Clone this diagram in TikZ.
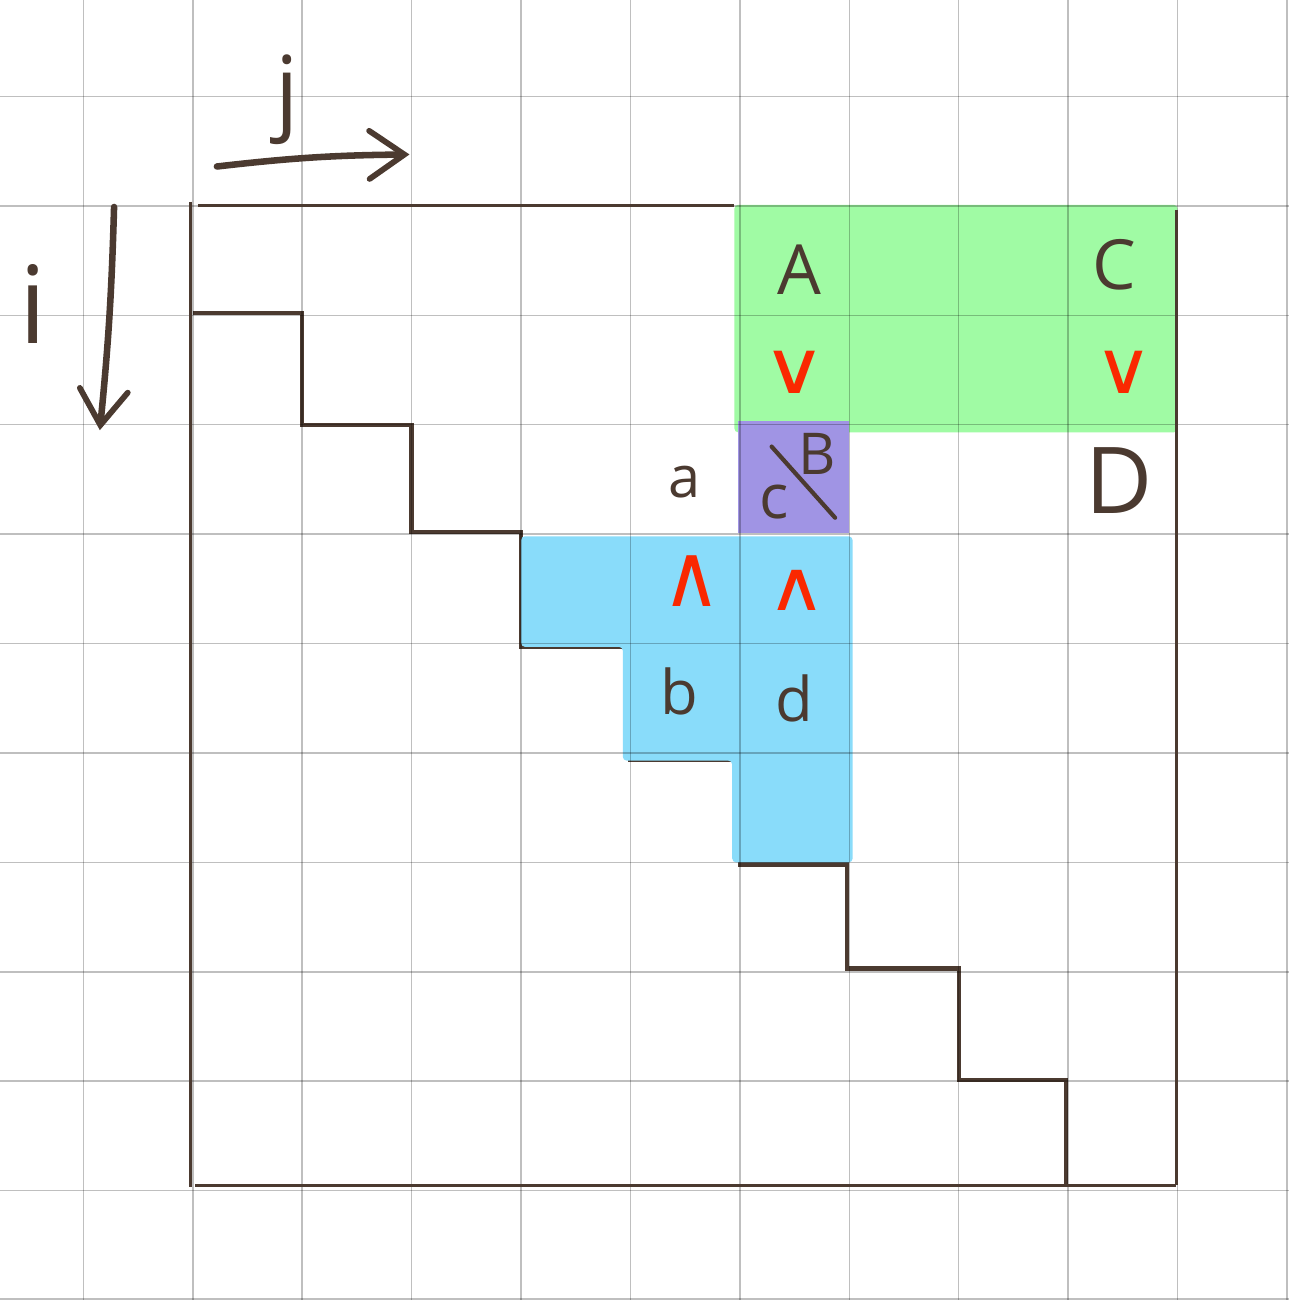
\documentclass[tikz,border=0pt]{standalone}
\usepackage{graphicx}
\usepackage{fontspec}
\setmainfont{Open Sans}
\newfontfamily\symfont{DejaVu Sans}
\usetikzlibrary{arrows.meta}
\definecolor{ink}{RGB}{75,58,48}
\definecolor{greenfill}{RGB}{160,251,164}
\definecolor{purplefill}{RGB}{160,148,228}
\definecolor{cyanfill}{RGB}{137,220,250}
\definecolor{redmark}{RGB}{250,40,0}
\begin{document}
\begin{tikzpicture}[
  gridline/.style={black, opacity=0.25, line width=0.4pt},
  outline/.style={ink, line width=0.8pt},
  stair/.style={ink, line width=1.15pt, line join=miter},
  axis/.style={ink, line width=1.7pt, line cap=round,
    -{Straight Barb[length=0.32cm,width=0.44cm,line cap=round,line width=1.5pt]}},
  lbl/.style={text=ink, inner sep=0pt, font=\fontsize{18}{20}\selectfont},
  small/.style={text=ink, inner sep=0pt, font=\fontsize{16}{18}\selectfont},
  redsym/.style={text=redmark, inner sep=0pt, font=\symfont\fontsize{19}{21}\selectfont},
]
\useasboundingbox[fill=white] (-1.7626,1.882) rectangle (10.018,-10.0);

% staircase (partly hidden under the cyan fill)
\draw[stair] (0,-0.98) -- (1,-0.98) -- (1,-2) -- (2,-2) -- (2,-2.98) -- (3,-2.98)
  -- (3,-4.03) -- (4,-4.03) -- (4,-5.06) -- (5,-5.06) -- (5,-6.02) -- (5.98,-6.02)
  -- (5.98,-6.97) -- (7,-6.97) -- (7,-7.99) -- (7.98,-7.99) -- (7.98,-8.95);

% fills
\fill[greenfill, rounded corners=1pt] (4.95,0.01) rectangle (9.0,-2.07);
\fill[purplefill] (4.98,-1.97) rectangle (6.0,-2.99);
\fill[cyanfill, rounded corners=1pt] (3.0,-3.02) -- (6.03,-3.02) -- (6.03,-6.0) -- (4.93,-6.0)
  -- (4.93,-5.07) -- (3.93,-5.07) -- (3.93,-4.03) -- (3.0,-4.03) -- cycle;

% grid
\foreach \x in {-1,...,10} \draw[gridline] (\x,1.882) -- (\x,-10.0);
\foreach \y in {1,0,...,-9} \draw[gridline] (-1.7626,\y) -- (10.018,\y);
\draw[gridline] (-1.7626,-9.99) -- (10.018,-9.99);

% matrix outline
\draw[outline] (0.05,0) -- (4.95,0);
\draw[outline] (-0.02,0.04) -- (-0.02,-8.97);
\draw[outline] (8.99,-0.04) -- (8.99,-8.95);
\draw[outline] (0.02,-8.95) -- (8.99,-8.95);

% axes
\coordinate (js) at (0.22,0.36);
\coordinate (je) at (1.98,0.47);
\draw[axis] (js) to[bend left=3] (je);
\node (jl) at (0.86,0.97) {\color{ink}\fontsize{24}{26}\selectfont j};
\coordinate (is) at (-0.72,-0.01);
\coordinate (ie) at (-0.85,-2.05);
\draw[axis] (is) to[bend left=2] (ie);
\node (il) at (-1.46,-0.9) {\color{ink}\fontsize{28}{30}\selectfont i};

% labels
\node[lbl] (A) at (5.54,-0.585) {A};
\node[lbl] (C) at (8.42,-0.54) {C};
\node[redsym] (v1) at (5.5,-1.52) {\scalebox{1.2}[1.0]{∨}};
\node[redsym] (v2) at (8.51,-1.52) {\scalebox{1.1}[1.0]{∨}};
\node[text=ink, inner sep=0pt, font=\fontsize{15}{17}\selectfont] (a) at (4.49,-2.52) {a};
\node[small] (c) at (5.31,-2.71) {c};
\node[text=ink, inner sep=0pt, font=\fontsize{15}{17}\selectfont] (B) at (5.71,-2.27) {B};
\draw[ink, line width=1.1pt, line cap=round] (5.29,-2.20) -- (5.87,-2.85);
\node[text=ink, inner sep=0pt, font=\fontsize{24}{26}\selectfont] (D) at (8.47,-2.51) {D};
\node[redsym] (w1) at (4.56,-3.43) {\scalebox{1.1}[1.2]{∧}};
\node[redsym] (w2) at (5.52,-3.51) {\scalebox{1.1}[0.95]{∧}};
\node[small] (b) at (4.45,-4.44) {b};
\node[small] (d) at (5.5,-4.5) {d};
\end{tikzpicture}
\end{document}
